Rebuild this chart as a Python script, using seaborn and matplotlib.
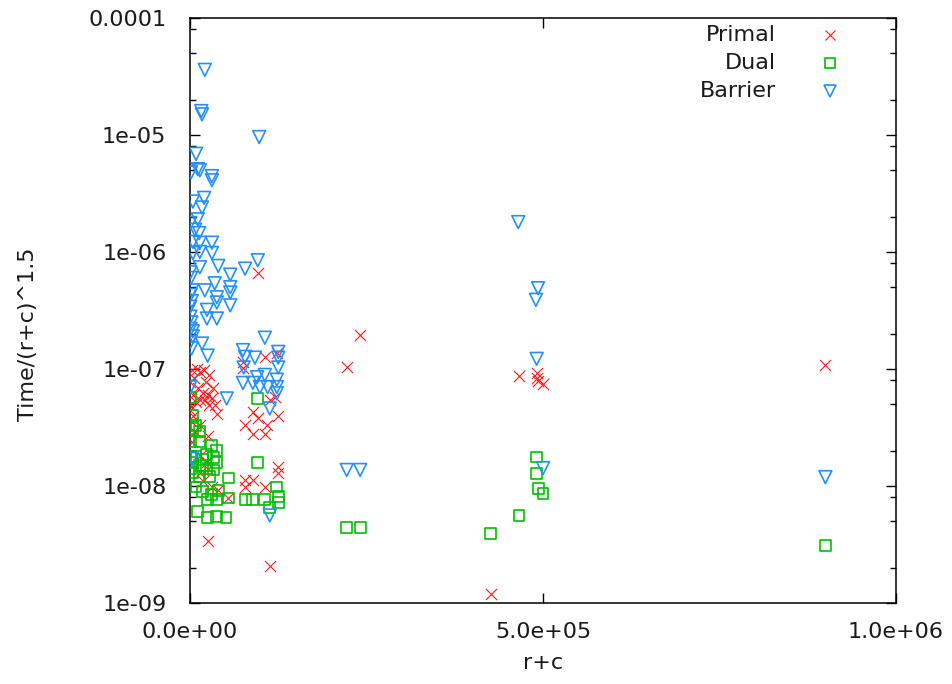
import matplotlib
matplotlib.use("Agg")
import matplotlib.pyplot as plt
from matplotlib.ticker import FixedLocator, FixedFormatter, LogLocator, NullLocator, NullFormatter
import seaborn as sns

# Problem size (rows + columns) and solve time normalised by (r+c)^1.5
primal_rc = [9.0e5, 2.41e5, 2.22e5, 4.66e5, 4.91e5, 4.91e5, 4.93e5, 5.0e5, 4.26e5, 1.13e5,
             2.5e4, 9.6e4, 1.06e5, 1.23e5, 7.5e4, 7.5e4, 1.2e5, 1.13e5, 8.9e4, 9.6e4,
             7.8e4, 1.09e5, 8.9e4, 1.06e5, 1.25e5, 1.25e5, 1.25e5, 7.8e4, 8.9e4, 1.06e5,
             7.8e4, 5.4e4, 3e3, 1e4, 1.4e4, 2e4, 2.7e4, 6e3, 500, 2.3e4,
             3.3e4, 1.1e4, 1.8e4, 4e3, 2.5e4, 1.4e4, 3.1e4, 2.1e4, 8.5e3, 300,
             2.7e4, 3.8e4, 4e3, 3.5e4, 3e3, 200, 1.4e4, 2.5e4, 1.4e4, 2.4e4,
             2.5e4, 1.4e4, 1.8e4, 3.1e4, 4e4, 3e3, 7e3]
primal_t = [1.08e-7, 1.95e-7, 1.03e-7, 8.7e-8, 9.3e-8, 8.4e-8, 7.9e-8, 7.4e-8, 1.2e-9, 2.07e-9,
            3.4e-9, 6.6e-7, 1.27e-7, 1.37e-7, 1.15e-7, 1.02e-7, 5.8e-8, 5.4e-8, 4.3e-8, 3.8e-8,
            3.3e-8, 3.3e-8, 2.8e-8, 2.8e-8, 4.0e-8, 1.45e-8, 1.3e-8, 1.13e-8, 1.13e-8, 9.8e-9,
            9.8e-9, 7.9e-9, 9.8e-8, 1.0e-7, 9.4e-8, 9.8e-8, 8.9e-8, 8.4e-8, 7.7e-8, 7.7e-8,
            6.9e-8, 6.9e-8, 6.2e-8, 6.0e-8, 6.0e-8, 5.4e-8, 5.7e-8, 5.4e-8, 5.2e-8, 4.9e-8,
            4.9e-8, 4.1e-8, 4.0e-8, 4.9e-8, 3.5e-8, 4.5e-8, 3.3e-8, 2.7e-8, 1.8e-8, 1.6e-8,
            1.4e-8, 1.3e-8, 1.1e-8, 9.8e-9, 9.2e-9, 2.4e-8, 2.9e-8]

dual_rc = [9.0e5, 2.22e5, 2.41e5, 4.26e5, 4.66e5, 4.91e5, 4.91e5, 4.93e5, 5.0e5, 9.6e4,
           9.6e4, 1.23e5, 7.8e4, 8.9e4, 1.06e5, 1.25e5, 1.25e5, 1.13e5, 5.5e4, 3.8e4,
           2.5e4, 1e4, 2.5e4, 3.8e4, 5.1e4, 5.5e4, 300, 3e3, 3e3, 8.5e3,
           1.4e4, 1.4e4, 300, 3.1e4, 2.4e4, 3.3e4, 3.8e4, 8.5e3, 1.8e4, 3e3,
           1.3e4, 2.3e4, 3.3e4, 4e3, 1.4e4, 2.8e4, 8.5e3, 1.8e4, 3e4, 300,
           3.7e4, 500, 4.1e4]
dual_t = [3.1e-9, 4.45e-9, 4.45e-9, 3.9e-9, 5.6e-9, 1.77e-8, 1.29e-8, 9.6e-9, 8.7e-9, 5.6e-8,
          1.6e-8, 9.8e-9, 7.6e-9, 7.6e-9, 7.6e-9, 8.1e-9, 7.2e-9, 6.6e-9, 7.9e-9, 7.6e-9,
          7.6e-9, 6.0e-9, 5.4e-9, 5.5e-9, 5.4e-9, 1.17e-8, 5.7e-8, 4.0e-8, 3.1e-8, 3.3e-8,
          2.9e-8, 2.4e-8, 2.4e-8, 2.2e-8, 1.85e-8, 1.75e-8, 1.6e-8, 1.8e-8, 1.7e-8, 1.6e-8,
          1.5e-8, 1.4e-8, 1.37e-8, 1.3e-8, 1.2e-8, 1.2e-8, 9.8e-9, 8.9e-9, 8.4e-9, 1.4e-8,
          2.0e-8, 1.8e-8, 9.2e-9]

barrier_rc = [2.1e4, 1.6e4, 1.7e4, 9.8e4, 8.5e3, 1.5e3, 1.1e4, 1.4e4, 3.1e4, 3.1e4,
              4e3, 2e4, 1.7e4, 1.1e4, 500, 7e3, 1.3e4, 3.1e4, 1.4e4, 4e3,
              4e3, 1.4e4, 3.1e4, 9.6e4, 7.8e4, 4e4, 1.4e4, 500, 5.7e4, 3.5e4,
              2.1e4, 5.7e4, 5.7e4, 3e3, 800, 3.8e4, 3.8e4, 5.7e4, 2.4e4, 300,
              2.4e4, 3.8e4, 600, 900, 4e3, 4e3, 1.06e5, 400, 1.7e4, 2.5e4,
              7.5e4, 7.8e4, 9.2e4, 1.25e5, 1.25e5, 1.25e5, 7.6e4, 1.06e5, 9.5e4, 7.5e4,
              8.9e4, 9.9e4, 1.1e5, 1.23e5, 1.23e5, 1.23e5, 300, 5.2e4, 1.13e5, 3e3,
              1.13e5, 9.0e5, 2.22e5, 2.41e5, 5.0e5, 4.91e5, 4.65e5, 4.93e5, 4.9e5,
              1.5e3, 2.5e3, 1.8e3, 2.2e3]
barrier_t = [3.6e-5, 1.6e-5, 1.5e-5, 9.6e-6, 6.9e-6, 4.8e-6, 5.1e-6, 5.0e-6, 4.45e-6, 4.1e-6,
             2.7e-6, 2.9e-6, 2.4e-6, 1.9e-6, 1.77e-6, 1.55e-6, 1.45e-6, 1.2e-6, 1.2e-6, 1.22e-6,
             9.8e-7, 1.0e-6, 9.8e-7, 8.5e-7, 7.2e-7, 7.6e-7, 7.4e-7, 6.7e-7, 6.4e-7, 5.4e-7,
             4.7e-7, 5.0e-7, 4.5e-7, 4.7e-7, 4.3e-7, 4.1e-7, 3.7e-7, 3.5e-7, 3.2e-7, 3.4e-7,
             2.7e-7, 2.7e-7, 2.8e-7, 2.2e-7, 2.1e-7, 1.9e-7, 1.85e-7, 1.7e-7, 1.65e-7, 1.3e-7,
             1.45e-7, 1.27e-7, 1.25e-7, 1.4e-7, 1.25e-7, 1.03e-7, 1.03e-7, 8.9e-8, 8.5e-8, 7.6e-8,
             7.6e-8, 7.0e-8, 7.0e-8, 8.1e-8, 7.0e-8, 6.2e-8, 7.0e-8, 5.6e-8, 4.6e-8, 1.7e-8,
             5.6e-9, 1.19e-8, 1.37e-8, 1.37e-8, 1.42e-8, 1.22e-7, 1.8e-6, 4.9e-7, 3.9e-7,
             6.0e-7, 3.8e-7, 2.5e-7, 1.5e-7]

series_names = ["Primal", "Dual", "Barrier"]

x_ticks = [0, 5e5, 1e6]
x_tick_labels = ["0.0e+00", "5.0e+05", "1.0e+06"]
y_ticks = [1e-9, 1e-8, 1e-7, 1e-6, 1e-5, 1e-4]
y_tick_labels = ["1e-09", "1e-08", "1e-07", "1e-06", "1e-05", "0.0001"]

FS = 16
plt.rcParams["font.family"] = ["DejaVu Sans"]
plt.rcParams["font.size"] = FS

fig = plt.figure(figsize=(9.52, 6.84), dpi=100)
ax = fig.add_axes([190 / 952, 1 - 603 / 684, 706 / 952, 585 / 684])

red = "#ff1a1a"
green = "#00c000"
blue = "#2490ff"
text_color = "#1a1a1a"

sns.scatterplot(x=primal_rc, y=primal_t, marker="x", color=red, s=64,
                linewidth=0.8, ax=ax, zorder=3)
sns.scatterplot(x=dual_rc, y=dual_t, marker="s", facecolor="none", edgecolor=green,
                s=62, linewidth=1.2, ax=ax, zorder=3)
sns.scatterplot(x=barrier_rc, y=barrier_t, marker="v", facecolor="none", edgecolor=blue,
                s=85, linewidth=1.2, ax=ax, zorder=3)

ax.set_yscale("log")
ax.set_xlim(0, 1e6)
ax.set_ylim(1e-9, 1e-4)

ax.xaxis.set_major_locator(FixedLocator(x_ticks))
ax.xaxis.set_major_formatter(FixedFormatter(x_tick_labels))
ax.xaxis.set_minor_locator(NullLocator())
ax.yaxis.set_major_locator(FixedLocator(y_ticks))
ax.yaxis.set_major_formatter(FixedFormatter(y_tick_labels))
ax.yaxis.set_minor_locator(LogLocator(base=10, subs=[2, 5, 8]))
ax.yaxis.set_minor_formatter(NullFormatter())

ax.tick_params(which="both", direction="in", top=True, right=True, color="black",
               width=1.0, labelsize=FS, labelcolor=text_color)
ax.tick_params(which="major", length=7)
ax.tick_params(which="minor", length=4)
ax.tick_params(axis="y", pad=17)
ax.tick_params(axis="x", pad=14)
for sp in ax.spines.values():
    sp.set_linewidth(1.1)
    sp.set_color("black")

ax.set_xlabel("r+c", fontsize=FS, color=text_color)
ax.set_ylabel("Time/(r+c)^1.5", fontsize=FS, color=text_color)
ax.xaxis.set_label_coords(0.5, -0.085)
ax.yaxis.set_label_coords(-0.215, 0.46)

# Legend drawn in the upper-right corner, labels right-aligned to the left of the keys
leg_key_x = 0.9065
leg_text_x = 0.83
leg_rows = [0.971, 0.923, 0.875]
styles = [
    dict(marker="x", color=red, markersize=7.5, markeredgewidth=0.8, linestyle="none"),
    dict(marker="s", markerfacecolor="none", markeredgecolor=green, markersize=6.5,
         markeredgewidth=1.2, linestyle="none"),
    dict(marker="v", markerfacecolor="none", markeredgecolor=blue, markersize=8,
         markeredgewidth=1.2, linestyle="none"),
]
for name, yy, st in zip(series_names, leg_rows, styles):
    ax.text(leg_text_x, yy, name, transform=ax.transAxes, ha="right", va="center",
            fontsize=FS, color=text_color)
    ax.plot([leg_key_x], [yy], transform=ax.transAxes, clip_on=False, **st)

fig.savefig("out.png", dpi=100, facecolor="white")
